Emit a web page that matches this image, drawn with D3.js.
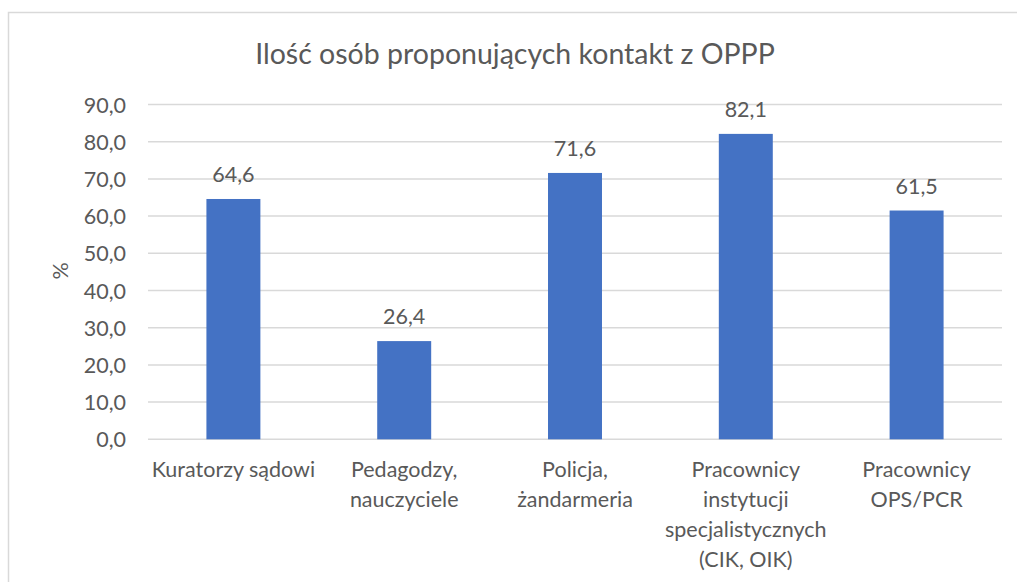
<!DOCTYPE html>
<html><head><meta charset="utf-8">
<script src="https://cdn.jsdelivr.net/npm/d3@7"></script>
<style>body{margin:0;background:#fff;} text{font-family:"Lato",sans-serif;fill:#595959;}</style>
</head><body>
<svg id="c" width="1017" height="582"></svg>
<script>
const categories = [["Kuratorzy sądowi"],["Pedagodzy,","nauczyciele"],["Policja,","żandarmeria"],["Pracownicy","instytucji","specjalistycznych","(CIK, OIK)"],["Pracownicy","OPS/PCR"]];
const values = [64.6, 26.4, 71.6, 82.1, 61.5];
const yTicks = [0,10,20,30,40,50,60,70,80,90];
const title = "Ilość osób proponujących kontakt z OPPP";
const yLabel = "%";

const svg = d3.select("#c");
svg.append("rect").attr("x",8.5).attr("y",12.5).attr("width",1030).attr("height",600)
  .attr("fill","#fff").attr("stroke","#d9d9d9").attr("stroke-width",1.5);

const x = d3.scaleBand().domain(d3.range(values.length)).range([148,1002]).paddingInner(0.684).paddingOuter(0.342);
const y = d3.scaleLinear().domain([0,90]).range([439.3,104.5]);
const fmt = v => d3.format(".1f")(v).replace(".",",");

svg.append("g").selectAll("line").data(yTicks).join("line")
  .attr("x1",148).attr("x2",1002).attr("y1",d=>y(d)).attr("y2",d=>y(d))
  .attr("stroke","#d9d9d9").attr("stroke-width",1.5);

const ax = svg.append("g").attr("transform","translate(126,0)")
  .call(d3.axisLeft(y).tickValues(yTicks).tickFormat(fmt).tickSize(0).tickPadding(0));
ax.select(".domain").remove();
ax.selectAll("text").style("font-size","21.5px").style("font-family","Lato").attr("fill","#595959").attr("dy","0.35em");

svg.append("g").selectAll("rect").data(values).join("rect")
  .attr("x",(d,i)=>x(i)).attr("width",x.bandwidth())
  .attr("y",d=>y(d)).attr("height",d=>y(0)-y(d)).attr("fill","#4472c4");

svg.append("g").selectAll("text").data(values).join("text")
  .attr("x",(d,i)=>x(i)+x.bandwidth()/2).attr("y",d=>y(d)-17)
  .attr("text-anchor","middle").style("font-size","21.5px").text(fmt);

const cat = svg.append("g").selectAll("text").data(categories).join("text")
  .attr("text-anchor","middle").style("font-size","21.5px")
  .attr("x",(d,i)=>x(i)+x.bandwidth()/2).attr("y",477);
cat.selectAll("tspan").data(d=>d).join("tspan")
  .attr("x",function(){return this.parentNode.getAttribute("x");})
  .attr("dy",(d,j)=>j===0?0:30).text(d=>d);

svg.append("text").attr("transform","translate(68,271) rotate(-90)")
  .attr("text-anchor","middle").style("font-size","21.5px").text(yLabel);

svg.append("text").attr("x",515).attr("y",64).attr("text-anchor","middle")
  .style("font-size","28.5px").text(title);
</script>
</body></html>
